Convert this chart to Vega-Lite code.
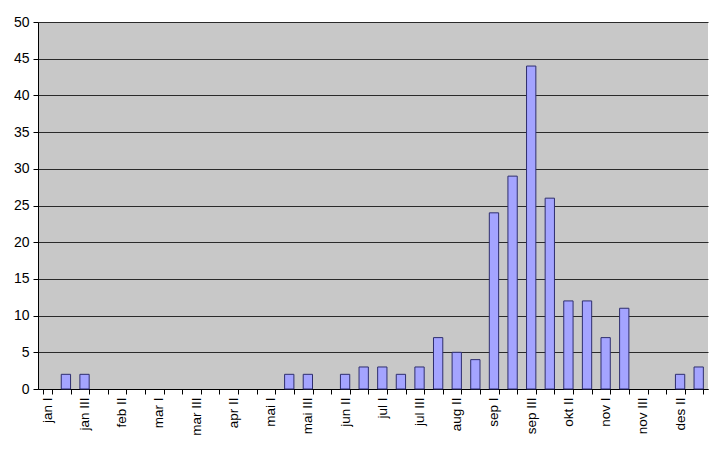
{
  "$schema": "https://vega.github.io/schema/vega-lite/v6.json",
  "autosize": "none",
  "width": 670,
  "height": 367,
  "padding": {"left": 38, "top": 22, "right": 12, "bottom": 66},
  "background": "#FFFFFF",
  "config": {
    "view": {"fill": "#C8C8C8", "stroke": null},
    "font": "Liberation Sans"
  },
  "data": {
    "values": [
      {"period": "jan I", "count": 0},
      {"period": "jan II", "count": 2},
      {"period": "jan III", "count": 2},
      {"period": "feb I", "count": 0},
      {"period": "feb II", "count": 0},
      {"period": "feb III", "count": 0},
      {"period": "mar I", "count": 0},
      {"period": "mar II", "count": 0},
      {"period": "mar III", "count": 0},
      {"period": "apr I", "count": 0},
      {"period": "apr II", "count": 0},
      {"period": "apr III", "count": 0},
      {"period": "mai I", "count": 0},
      {"period": "mai II", "count": 2},
      {"period": "mai III", "count": 2},
      {"period": "jun I", "count": 0},
      {"period": "jun II", "count": 2},
      {"period": "jun III", "count": 3},
      {"period": "jul I", "count": 3},
      {"period": "jul II", "count": 2},
      {"period": "jul III", "count": 3},
      {"period": "aug I", "count": 7},
      {"period": "aug II", "count": 5},
      {"period": "aug III", "count": 4},
      {"period": "sep I", "count": 24},
      {"period": "sep II", "count": 29},
      {"period": "sep III", "count": 44},
      {"period": "okt I", "count": 26},
      {"period": "okt II", "count": 12},
      {"period": "okt III", "count": 12},
      {"period": "nov I", "count": 7},
      {"period": "nov II", "count": 11},
      {"period": "nov III", "count": 0},
      {"period": "des I", "count": 0},
      {"period": "des II", "count": 2},
      {"period": "des III", "count": 3}
    ]
  },
  "mark": {"type": "bar", "fill": "#A4A4FF", "stroke": "#2E2E6E", "strokeWidth": 1},
  "encoding": {
    "strokeOpacity": {"condition": {"test": "datum.count == 0", "value": 0}, "value": 1},
    "x": {
      "field": "period",
      "type": "nominal",
      "sort": null,
      "title": null,
      "scale": {"paddingInner": 0.5, "paddingOuter": 0.25},
      "axis": {
        "tickBand": "extent",
        "labelExpr": "indexof(['jan I','jan III','feb II','mar I','mar III','apr II','mai I','mai III','jun II','jul I','jul III','aug II','sep I','sep III','okt II','nov I','nov III','des II'], datum.value) >= 0 ? datum.label : ''",
        "labelAngle": 270,
        "labelFontSize": 13.5,
        "labelColor": "#000000",
        "labelPadding": 3,
        "tickSize": 5,
        "tickColor": "#000000",
        "domainColor": "#000000",
        "grid": false
      }
    },
    "y": {
      "field": "count",
      "type": "quantitative",
      "title": null,
      "scale": {"domain": [0, 50], "nice": false},
      "axis": {
        "values": [0, 5, 10, 15, 20, 25, 30, 35, 40, 45, 50],
        "grid": true,
        "gridColor": "#2A2A2A",
        "gridWidth": 1.2,
        "gridOpacity": 1,
        "labelFontSize": 14,
        "labelColor": "#000000",
        "labelPadding": 4,
        "tickSize": 5,
        "tickColor": "#000000",
        "domainColor": "#000000"
      }
    }
  }
}
